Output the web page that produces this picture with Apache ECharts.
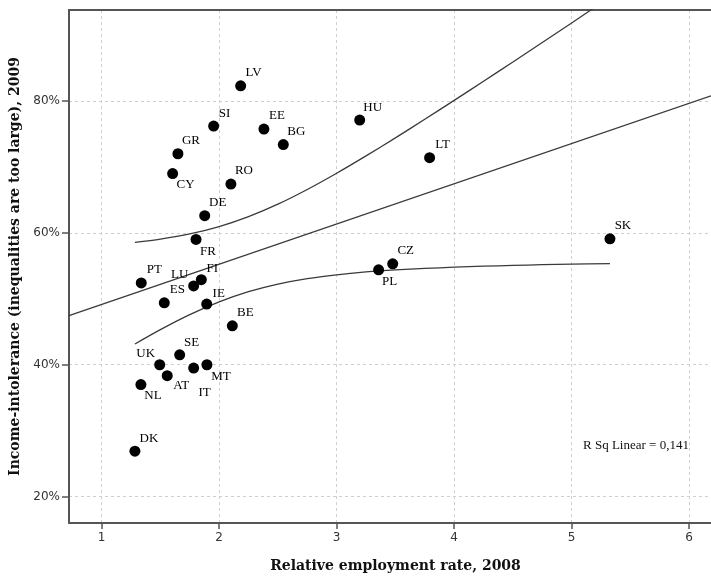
<!DOCTYPE html>
<html>
<head>
<meta charset="utf-8">
<script src="https://cdn.jsdelivr.net/npm/echarts@6/dist/echarts.min.js"></script>
<style>
  html, body { margin: 0; padding: 0; background: #fff; }
  #chart { width: 711px; height: 576px; }
</style>
</head>
<body>
<div id="chart"></div>
<script>
// Country codes and their values
const countries = ['LV','SI','GR','CY','RO','DE','EE','BG','HU','LT','FR','PT','FI','LU','ES','IE','BE','SE','UK','MT','IT','AT','NL','DK','SK','CZ','PL'];
// Relative employment rate, 2008
const employment = [2.183,1.953,1.649,1.604,2.100,1.877,2.381,2.546,3.196,3.791,1.803,1.337,1.848,1.783,1.533,1.894,2.112,1.664,1.494,1.896,1.783,1.558,1.334,1.283,5.326,3.477,3.357];
// Income-intolerance (share saying inequalities are too large), 2009, in %
const intolerance = [82.3,76.2,72.0,69.0,67.4,62.6,75.75,73.4,77.1,71.4,59.0,52.4,52.9,51.95,49.4,49.2,45.9,41.5,40.0,40.0,39.5,38.35,37.0,26.9,59.1,55.3,54.4];

// Linear fit line (endpoints at the axis extent)
const fitX = [0.722, 6.186];
const fitY = [47.44, 80.77];

// 95% confidence band of the mean around the fit
const bandX    = [1.283, 1.5, 1.75, 2.0, 2.25, 2.5, 2.75, 3.0, 3.25, 3.5, 3.75, 4.0, 4.25, 4.5, 4.75, 5.0, 5.326];
const bandLow  = [43.15, 45.33, 47.60, 49.53, 51.08, 52.23, 53.06, 53.64, 54.07, 54.38, 54.61, 54.79, 54.95, 55.06, 55.17, 55.25, 55.34];
const bandHigh = [58.55, 59.05, 59.84, 60.95, 62.46, 64.35, 66.58, 69.04, 71.67, 74.40, 77.23, 80.09, 82.99, 85.92, 88.87, 91.83, 95.76];

// Axis ticks
const xTicks = [1, 2, 3, 4, 5, 6];
const yTicks = [20, 40, 60, 80];
const xRange = [0.722, 6.186];
const yRange = [16, 93.8];

const rSquaredText = 'R Sq Linear = 0,141';

// Where each country label sits relative to its marker centre (px)
const defaultLabelOffset = [13, -13];
const labelOffsets = {
  SI: [11, -12], CY: [13, 11], FR: [12, 12], LU: [-14, -11], FI: [11, -11],
  IE: [12, -11], SE: [12, -12], UK: [-14, -11], MT: [14, 12], IT: [11, 25],
  AT: [14, 10], NL: [12, 11], DK: [14, -13], PL: [11, 12]
};

const axisColor = '#555';
const gridLine = { show: true, lineStyle: { color: '#cfcfcf', type: [3, 3], width: 1 } };
const curveStyle = { color: '#3a3a3a', width: 1.3 };

const points = countries.map((c, i) => ({
  value: [employment[i], intolerance[i]],
  name: c,
  label: { offset: labelOffsets[c] || defaultLabelOffset }
}));

const chart = echarts.init(document.getElementById('chart'), null, { renderer: 'canvas' });
chart.setOption({
  animation: false,
  backgroundColor: '#fff',
  grid: { left: 69, right: 0, top: 10, bottom: 53, containLabel: false, outerBoundsMode: 'none' },
  xAxis: [{
    type: 'value',
    min: xRange[0], max: xRange[1],
    name: 'Relative employment rate, 2008',
    nameLocation: 'middle',
    nameGap: 36,
    nameTextStyle: { fontFamily: 'DejaVu Serif', fontWeight: 'bold', fontSize: 14, color: '#111', padding: [0, 0, 0, 11] },
    axisLine: { show: true, onZero: false, lineStyle: { color: axisColor, width: 2 } },
    axisTick: { show: true, length: 6, customValues: xTicks, lineStyle: { color: axisColor, width: 1.5 } },
    axisLabel: { customValues: xTicks, margin: 9, fontFamily: 'DejaVu Sans', fontSize: 12, color: '#333' },
    splitLine: gridLine
  }, {
    type: 'value',
    position: 'top',
    min: xRange[0], max: xRange[1],
    axisLine: { show: true, onZero: false, lineStyle: { color: axisColor, width: 2 } },
    axisTick: { show: false },
    axisLabel: { show: false },
    splitLine: { show: false }
  }],
  yAxis: {
    type: 'value',
    min: yRange[0], max: yRange[1],
    name: 'Income-intolerance (inequalities are too large), 2009',
    nameLocation: 'middle',
    nameGap: 41,
    nameTextStyle: { fontFamily: 'DejaVu Serif', fontWeight: 'bold', fontSize: 14, color: '#111' },
    axisLine: { show: true, onZero: false, lineStyle: { color: axisColor, width: 2 } },
    axisTick: { show: true, length: 7, customValues: yTicks, lineStyle: { color: axisColor, width: 1.5 } },
    axisLabel: { customValues: yTicks, margin: 9, formatter: '{value}%', fontFamily: 'DejaVu Sans', fontSize: 12, color: '#333' },
    splitLine: gridLine
  },
  graphic: [{
    type: 'text',
    left: 583, top: 439,
    style: { text: rSquaredText, font: '13px "Liberation Serif"', fill: '#111' }
  }],
  series: [
    {
      type: 'line',
      data: fitX.map((x, i) => [x, fitY[i]]),
      showSymbol: false, silent: true,
      lineStyle: curveStyle, z: 2
    },
    {
      type: 'line',
      data: bandX.map((x, i) => [x, bandHigh[i]]),
      showSymbol: false, silent: true, smooth: 0.3,
      lineStyle: curveStyle, z: 2
    },
    {
      type: 'line',
      data: bandX.map((x, i) => [x, bandLow[i]]),
      showSymbol: false, silent: true, smooth: 0.3,
      lineStyle: curveStyle, z: 2
    },
    {
      type: 'scatter',
      data: points,
      symbol: 'circle',
      symbolSize: 11,
      itemStyle: { color: '#000', opacity: 1 },
      z: 3,
      label: {
        show: true,
        position: 'inside',
        align: 'center',
        verticalAlign: 'middle',
        formatter: p => p.name,
        fontFamily: 'Liberation Serif',
        fontSize: 13,
        color: '#000'
      }
    }
  ]
});
</script>
</body>
</html>
